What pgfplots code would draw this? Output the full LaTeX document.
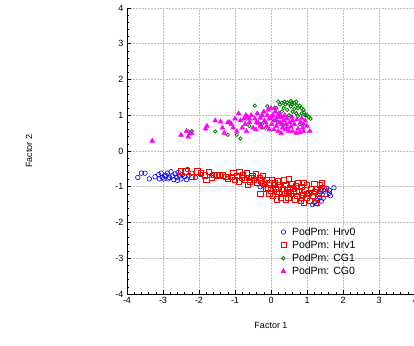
\documentclass[border=0pt]{standalone}
\usepackage{pgfplots}
\pgfplotsset{compat=1.18}
\usepackage{fontspec}
\setmainfont{Liberation Sans}
\definecolor{cblue}{RGB}{0,0,255}
\definecolor{cred}{RGB}{255,0,0}
\definecolor{cgreen}{RGB}{0,128,0}
\definecolor{cmag}{RGB}{255,0,255}
\begin{document}
\begin{tikzpicture}
\begin{axis}[
  scale only axis, width=288pt, height=286pt,
  xmin=-4, xmax=4, ymin=-4, ymax=4,
  xtick={-4,-3,...,4}, ytick={-4,-3,...,4},
  minor tick num=4,
  axis x line*=bottom, axis y line*=left,
  axis line style={-, black, line width=0.8pt},
  tick align=inside,
  major tick length=4pt, minor tick length=2pt,
  tick style={black, line width=0.6pt},
  grid=major,
  major grid style={black!25, dash pattern=on 2pt off 1pt, line width=0.6pt},
  tick label style={font=\fontsize{9}{10}\selectfont},
  /pgf/number format/assume math mode=true,
  xlabel={Factor 1}, ylabel={Factor 2},
  every axis x label/.style={at={(axis description cs:0.5,-0.11)}, anchor=center, font=\fontsize{9}{10}\selectfont},
  every axis y label/.style={at={(axis description cs:-0.34,0.5)}, rotate=90, anchor=center, font=\fontsize{9}{10}\selectfont},
  legend style={at={(axis cs:0.24,-2.05)}, anchor=north west, draw=none, fill=none,
    font=\fontsize{10.5}{12}\selectfont, row sep=0pt, inner sep=1pt,
    /tikz/every odd column/.append style={column sep=4pt}},
  legend cell align=left,
  clip=false,
]
\coordinate (LL) at (rel axis cs:0,0);
\coordinate (UR) at (rel axis cs:1,1);
% Hrv0
\addplot[only marks, mark=o, mark size=2.3pt, color=cblue, line width=0.6pt] coordinates {
(-3.70,-0.74) (-3.60,-0.62) (-3.50,-0.62) (-3.38,-0.78) (-3.22,-0.72) (-3.12,-0.66)
(-3.05,-0.62) (-3.02,-0.74) (-2.98,-0.78) (-2.92,-0.68) (-2.88,-0.62) (-2.82,-0.74)
(-2.78,-0.58) (-2.74,-0.70) (-2.70,-0.80) (-2.66,-0.64) (-2.62,-0.74) (-2.58,-0.60)
(-2.54,-0.70) (-2.50,-0.78) (-2.46,-0.66) (-2.40,-0.72) (-2.35,-0.80) (-2.32,-0.52)
(-2.28,-0.68) (-2.20,-0.62) (-2.10,-0.74) (-1.95,-0.66) (-1.65,-0.68) (-1.30,-0.72)
(-0.30,-1.00) (-0.20,-0.98) (1.15,-1.50) (1.22,-1.42) (1.30,-1.38) (1.35,-1.30)
(1.40,-1.40) (1.42,-1.22) (1.48,-1.12) (1.55,-1.05) (1.62,-1.18) (1.65,-1.25)
(1.62,-1.10) (1.75,-1.03) (1.30,-1.48) (1.45,-1.32) (-3.10,-0.78) (-2.95,-0.70)
(-2.60,-0.82) (-2.85,-0.78)
};
\addlegendentry{PodPm: Hrv0}
% Hrv1
\addplot[only marks, mark=square, mark size=2.6pt, color=cred, line width=0.6pt] coordinates {
(-2.50,-0.57) (-2.38,-0.57) (-2.20,-0.72) (-2.05,-0.57) (-1.95,-0.60) (-1.85,-0.68)
(-1.80,-0.80) (-1.72,-0.58) (-1.65,-0.75) (-1.60,-0.66) (-1.50,-0.68) (-1.42,-0.66)
(-1.35,-0.68) (-1.25,-0.72) (-1.20,-0.78) (-1.10,-0.72) (-1.05,-0.62) (-1.00,-0.80)
(-0.95,-0.70) (-0.90,-0.85) (-0.88,-0.58) (-0.82,-0.74) (-0.78,-0.66) (-0.72,-0.80)
(-0.68,-0.62) (-0.62,-0.74) (-0.58,-0.86) (-0.52,-0.70) (-0.48,-0.80) (-0.42,-0.65)
(-0.38,-0.88) (-0.32,-0.74) (-0.30,-1.20) (-0.28,-0.82) (-0.22,-0.70) (-0.18,-0.92)
(-0.12,-0.80) (-0.08,-1.02) (-0.05,-0.88) (0.00,-1.10) (0.02,-0.80) (0.05,-1.25)
(0.08,-0.95) (0.12,-1.05) (0.15,-1.35) (0.18,-0.85) (0.22,-1.15) (0.25,-0.95)
(0.28,-1.30) (0.32,-1.05) (0.35,-0.82) (0.38,-1.20) (0.42,-0.95) (0.45,-1.10)
(0.48,-1.30) (0.50,-0.78) (0.52,-1.02) (0.55,-1.20) (0.58,-0.92) (0.62,-1.10)
(0.65,-1.35) (0.68,-0.98) (0.72,-1.25) (0.75,-0.90) (0.78,-1.12) (0.82,-1.40)
(0.85,-1.00) (0.88,-1.22) (0.90,-0.88) (0.92,-1.45) (0.95,-1.10) (0.98,-1.30)
(1.00,-0.95) (1.05,-1.18) (1.08,-1.40) (1.10,-1.05) (1.15,-1.25) (1.20,-0.92)
(1.22,-1.15) (1.25,-1.45) (1.28,-1.05) (1.32,-1.20) (1.35,-0.95) (1.38,-1.12)
(1.42,-0.90) (1.45,-1.05) (1.48,-1.20) (0.10,-0.90) (0.30,-1.20) (0.60,-1.05)
(0.40,-1.35) (0.70,-1.15) (0.20,-1.00) (-0.15,-1.05) (-0.25,-0.90) (0.85,-1.30)
(1.00,-1.20) (0.50,-1.15) (-0.05,-1.20) (0.15,-1.15) (-0.65,-0.95) (-0.55,-0.76)
};
\addlegendentry{PodPm: Hrv1}
% CG1
\addplot[only marks, mark=o, mark size=1.7pt, color=cgreen, line width=0.8pt] coordinates {
(-2.30,0.55) (-2.20,0.56) (-1.55,0.55) (-1.20,0.45) (-0.95,0.45) (-0.85,0.35)
(-0.45,1.27) (-0.10,1.25) (-0.25,0.75) (-0.60,0.70)
(0.20,1.38) (0.25,1.30) (0.30,1.35) (0.35,1.20) (0.40,1.30) (0.45,1.15)
(0.50,1.32) (0.55,1.25) (0.60,1.10) (0.65,1.35) (0.70,1.38) (0.75,1.20)
(0.80,1.27) (0.85,1.05) (0.90,1.15) (0.95,1.00) (1.00,1.00) (1.05,0.95)
(1.10,0.90) (0.30,1.10) (0.50,1.00) (0.70,1.05) (0.15,1.20) (0.40,0.95)
(0.60,1.30) (0.75,0.98) (0.85,1.20) (0.65,1.18) (0.25,1.00) (0.55,1.40)
(0.45,1.36) (0.20,0.80) (-0.30,0.75) (-0.15,0.65) (0.05,0.90) (0.35,0.72)
(0.80,0.75) (0.38,1.38) (0.58,1.35) (0.92,1.08) (0.72,1.28)
};
\addlegendentry{PodPm: CG1}
% CG0
\addplot[only marks, mark=triangle*, mark size=2.8pt, color=cmag, line width=0.4pt] coordinates {
(-3.30,0.28) (-2.50,0.45) (-2.35,0.55) (-2.30,0.40) (-2.25,0.48) (-2.20,0.50)
(-1.82,0.62) (-1.78,0.70) (-1.55,0.85) (-1.40,0.82) (-1.35,0.65) (-1.30,0.50)
(-1.20,0.80) (-1.15,0.80) (-1.05,0.65) (-1.00,0.90) (-0.95,0.55) (-0.90,1.05)
(-0.85,0.85) (-0.80,0.65) (-0.75,0.90) (-0.72,0.75) (-0.68,0.55) (-0.65,0.95)
(-0.60,0.80) (-0.55,1.00) (-0.50,0.65) (-0.45,0.90) (-0.42,0.60) (-0.38,1.05)
(-0.35,0.78) (-0.30,0.92) (-0.25,0.65) (-0.20,1.10) (-0.18,0.85) (-0.12,0.70)
(-0.08,1.15) (-0.05,0.90) (0.00,1.20) (0.02,0.75) (0.05,1.00) (0.08,0.60)
(0.10,0.85) (0.12,1.10) (0.15,0.70) (0.18,0.95) (0.20,0.55) (0.22,1.05)
(0.25,0.80) (0.28,0.50) (0.30,0.95) (0.32,0.65) (0.35,0.85) (0.38,1.00)
(0.40,0.60) (0.42,0.75) (0.45,0.90) (0.50,0.55) (0.52,0.80) (0.55,0.68)
(0.58,0.95) (0.60,0.55) (0.65,0.75) (0.70,0.50) (0.72,0.88) (0.75,0.62)
(0.80,0.52) (0.82,0.80) (0.85,0.92) (0.88,0.65) (0.90,0.55) (0.95,0.85)
(1.00,0.70) (1.08,0.55) (-0.10,1.00) (-0.15,0.80) (0.00,0.95) (0.10,1.20)
(-0.30,0.70) (-0.60,0.90) (-1.10,0.75) (0.30,0.75) (-0.40,0.80) (-0.05,0.60)
(0.15,0.85) (0.45,0.65) (0.25,0.95) (-0.70,1.00) (-0.25,1.00) (0.60,0.85)
(0.90,0.75)
};
\addlegendentry{PodPm: CG0}
\end{axis}
\pgfresetboundingbox
\path[use as bounding box] ([shift={(-127pt,-51pt)}]LL) rectangle ([shift={(-1pt,8pt)}]UR);
\end{tikzpicture}
\end{document}
